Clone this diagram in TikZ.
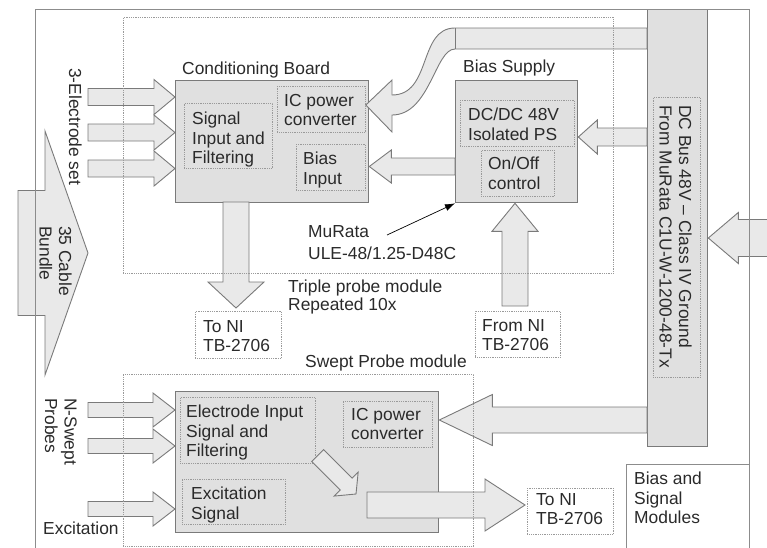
\documentclass[tikz,border=0pt]{standalone}
\usepackage{fontspec}
\setmainfont{Liberation Sans}
\usetikzlibrary{calc,arrows.meta}
\definecolor{boxfill}{HTML}{E0E0E0}
\definecolor{arrfill}{HTML}{E9E9E9}
\definecolor{lineg}{HTML}{7A7A7A}
\definecolor{dotg}{HTML}{9A9A9A}
\definecolor{frameg}{HTML}{8C8C8C}
\definecolor{txt}{HTML}{2A2A2A}
\newcommand\fatarr[5]{%
  \coordinate (faS) at #1; \coordinate (faT) at #2;
  \coordinate (faB) at ($(faT)!#5!(faS)$);
  \draw[fatarrow] ($(faS)!#3!90:(faT)$) -- ($(faB)!#3!-90:(faS)$) -- ($(faB)!#4!-90:(faS)$) -- (faT) -- ($(faB)!#4!90:(faS)$) -- ($(faB)!#3!90:(faS)$) -- ($(faS)!#3!-90:(faT)$) -- cycle;}
\begin{document}
\begin{tikzpicture}[x=1pt,y=-1pt,
  every node/.style={font=\fontsize{17.4}{19.5}\selectfont, text=txt, inner sep=0pt},
  box/.style={draw=lineg, line width=1.3pt, fill=boxfill, anchor=north west},
  dbox/.style={draw=dotg, densely dotted, line width=0.8pt, anchor=north west},
  fatarrow/.style={draw=lineg, line width=0.9pt, fill=arrfill, line join=miter},
  lbl/.style={anchor=north west, align=left},
  rlbl/.style={anchor=north west, align=left, rotate=-90},
  frame/.style={draw=frameg, line width=0.9pt},
]
\useasboundingbox (0,0) rectangle (767,547);

% main boxes
\node[box, minimum width=193pt, minimum height=122pt] (cb) at (175,80) {};
\node[box, minimum width=122pt, minimum height=122pt] (bs) at (455,80) {};
\node[box, minimum width=263pt, minimum height=141pt] (sp) at (175,391) {};
\node[box, minimum width=60pt, minimum height=437pt] (bus) at (647,9) {};

% inner dotted boxes
\node[dbox, minimum width=88pt, minimum height=65pt] (sif) at (184,103) {};
\node[dbox, minimum width=88pt, minimum height=46pt] (icp) at (277,86) {};
\node[dbox, minimum width=69pt, minimum height=46pt] (bin) at (296,144) {};
\node[dbox, minimum width=114pt, minimum height=46pt] (dcdc) at (460,100) {};
\node[dbox, minimum width=73pt, minimum height=46pt] (onoff) at (481,150) {};
\node[dbox, minimum width=135pt, minimum height=66pt] (eisf) at (180,397) {};
\node[dbox, minimum width=89pt, minimum height=46pt] (icps) at (343,401) {};
\node[dbox, minimum width=103pt, minimum height=45pt] (exs) at (182,479) {};
\node[dbox, minimum width=47pt, minimum height=280pt] (bust) at (653,97) {};
\node[dbox, minimum width=86pt, minimum height=47pt] (toni) at (195,311) {};
\node[dbox, minimum width=85pt, minimum height=46pt] (fromni) at (475,311) {};
\node[dbox, minimum width=86pt, minimum height=46pt] (tonis) at (527,488) {};

% fat arrows
\coordinate (e1) at (88,97);
\coordinate (e2) at (88,132.5);
\coordinate (e3) at (88,168.5);
\fatarr{(e1)}{(e1 -| cb.west)}{8.5pt}{17.5pt}{21pt}
\fatarr{(e2)}{(e2 -| cb.west)}{8.5pt}{17.5pt}{21pt}
\fatarr{(e3)}{(e3 -| cb.west)}{8.5pt}{17.5pt}{21pt}
\coordinate (cab) at (18,253);
\coordinate (cabt) at (88,253);
\fatarr{(cab)}{(cabt)}{62.5pt}{122pt}{43pt}
\coordinate (d1) at (236,202);
\fatarr{(d1)}{($(d1 |- toni.north)+(0,-3)$)}{13pt}{28pt}{26pt}
\coordinate (b1) at (455,166.5);
\fatarr{(b1)}{(b1 -| cb.east)}{8.5pt}{16.5pt}{22pt}
\coordinate (p1) at (647,137);
\fatarr{(p1)}{(p1 -| bs.east)}{9pt}{17pt}{19pt}
\coordinate (u1) at (515,306);
\fatarr{(u1)}{(u1 |- bs.south)}{13pt}{23pt}{28pt}
\coordinate (s1) at (647,420);
\fatarr{(s1)}{(s1 -| sp.east)}{13pt}{25.5pt}{53pt}
\coordinate (n1) at (88,410);
\coordinate (n2) at (88,446);
\coordinate (n3) at (88,509);
\fatarr{(n1)}{(n1 -| sp.west)}{7.5pt}{17pt}{22pt}
\fatarr{(n2)}{(n2 -| sp.west)}{7.5pt}{17pt}{22pt}
\fatarr{(n3)}{(n3 -| sp.west)}{7.5pt}{17pt}{22pt}
\coordinate (g1) at (317.7,455.5);
\coordinate (g2) at (356,494);
\fatarr{(g1)}{(g2)}{8.4pt}{17pt}{14pt}
\coordinate (o1) at (367,505);
\fatarr{(o1)}{($(o1 -| tonis.west)+(-2,0)$)}{13pt}{26pt}{40pt}
\coordinate (r1) at (775,238);
\fatarr{(r1)}{(r1 -| bus.east)}{18.5pt}{25.5pt}{30pt}

% curved arrow from bus to IC power converter
\draw[fatarrow] (bus.west |- 0,28) -- (455,28) .. controls (418,28) and (432,95) .. (392,95)
  -- (392,80) -- (icp.east |- 0,105) -- (392,132) -- (392,115)
  .. controls (430,115) and (435,49) .. (455,49) -- (bus.west |- 0,49) -- cycle;
\draw[fatarrow] (455,28) -- (455,49);

% labels
\node[lbl] at (182,62) {Conditioning Board};
\node[lbl] at (463,60) {Bias Supply};
\node[lbl] at (192,112) {Signal\\Input and\\Filtering};
\node[lbl] at (284,94) {IC power\\converter};
\node[lbl] at (303,152) {Bias\\Input};
\node[lbl] at (468,108) {DC/DC 48V\\Isolated PS};
\node[lbl] at (488,157) {On/Off\\control};
\node[lbl, font=\fontsize{17.4}{22}\selectfont] (mur) at (308,225) {MuRata\\ULE-48/1.25-D48C};
\node[lbl, font=\fontsize{17.4}{17.5}\selectfont] (tpl) at (288,280) {Triple probe module\\Repeated 10x};
\node[lbl] at (203,320) {To NI\\TB-2706};
\node[lbl] at (482,319) {From NI\\TB-2706};
\node[lbl] (spl) at (305,355) {Swept Probe module};
\node[lbl] at (186,405) {Electrode Input\\Signal and\\Filtering};
\node[lbl] at (351,408) {IC power\\converter};
\node[lbl] at (191,487) {Excitation\\Signal};
\node[lbl] at (536,493) {To NI\\TB-2706};
\node[lbl] at (634,472) {Bias and\\Signal\\Modules};
\node[lbl] (excl) at (43,522) {Excitation};
\node[rlbl] at (82,68) {3-Electrode set};
\node[rlbl] at (72,226) {35 Cable\\Bundle};
\node[rlbl] at (77,398) {N-Swept\\Probes};
\node[rlbl] at (692,105) {DC Bus 48V – Class IV Ground\\From MuRata C1U-W-1200-48-Tx};

% MuRata pointer
\coordinate (mua) at (387,235);
\draw[-{Latex[length=10pt,width=7pt]}, black, line width=0.7pt] (mua) -- (bs.south west);

% module frames and outer frame
\node[dbox, minimum width=490pt, minimum height=256pt] (tpm) at (123,17) {};
\node[dbox, minimum width=350pt, minimum height=172pt] (spm) at (123,374) {};
\draw[frame] (35,549) -- (35,9) -- (749,9) -- (749,549);
\draw[frame] (626,549) -- (626,464) -- (749,464);
\end{tikzpicture}
\end{document}
